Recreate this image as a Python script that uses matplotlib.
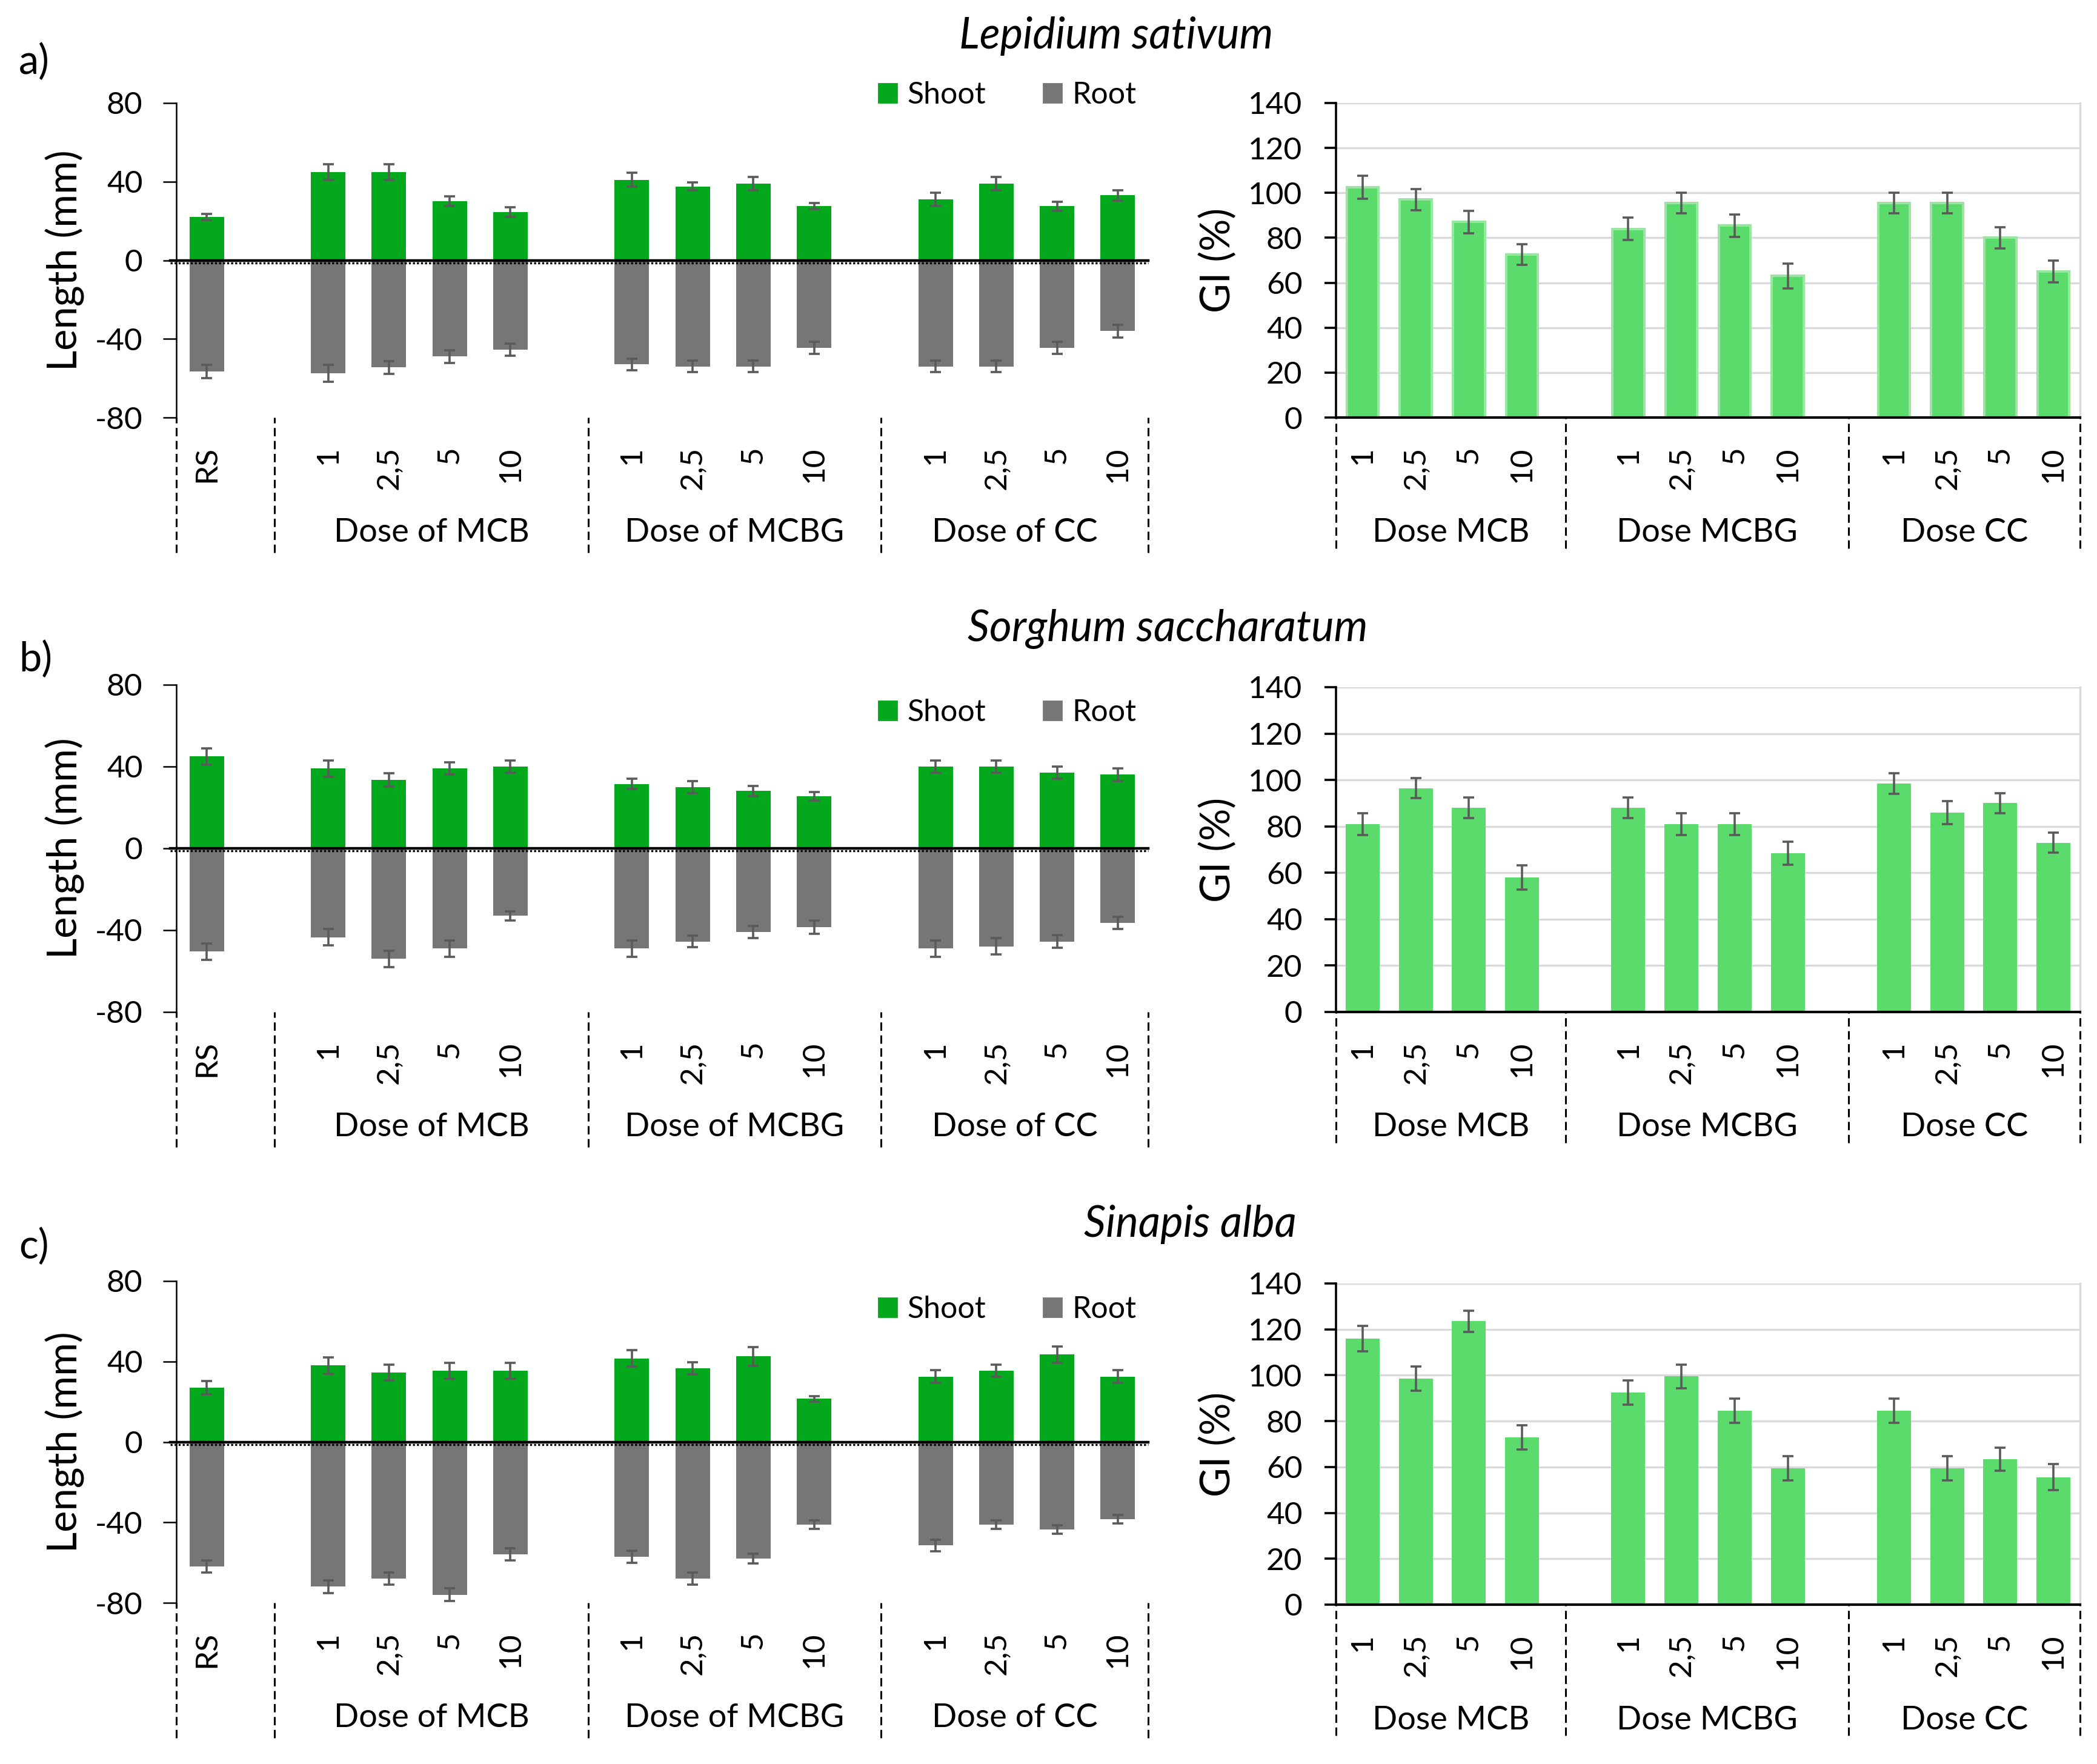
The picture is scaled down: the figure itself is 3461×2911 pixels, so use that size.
import matplotlib
matplotlib.use('Agg')
import matplotlib.pyplot as plt
from matplotlib.patches import Patch
from matplotlib.transforms import blended_transform_factory, offset_copy

plt.rcParams['font.family'] = ['Lato', 'DejaVu Sans']
plt.rcParams['axes.unicode_minus'] = False

# ---- data ----
doses = ['1', '2,5', '5', '10']
length_groups = ['Dose of MCB', 'Dose of MCBG', 'Dose of CC']
gi_groups = ['Dose MCB', 'Dose MCBG', 'Dose CC']
species = ['Lepidium sativum', 'Sorghum saccharatum', 'Sinapis alba']
panel_tags = ['a)', 'b)', 'c)']

# lengths (mm): RS, MCB 1/2,5/5/10, MCBG 1/2,5/5/10, CC 1/2,5/5/10
shoot_a = [22, 45, 45, 30, 24.5, 41, 37.5, 39, 27.5, 31, 39, 27.5, 33]
shoot_a_err = [1.5, 4, 4, 2.5, 2.5, 3.5, 2, 3.5, 1.5, 3.3, 3.5, 2.3, 2.5]
root_a = [-56.5, -57.5, -54.5, -49, -45.5, -53, -54, -54, -44.5, -54, -54, -44.5, -36]
root_a_err = [3.4, 4.2, 3.2, 3.2, 3.2, 3, 3, 3, 3, 3, 3, 3, 3.2]

shoot_b = [45, 39, 33.5, 39, 40, 31.5, 30, 28, 25.5, 40, 40, 37, 36]
shoot_b_err = [4, 4, 3.2, 3, 3, 2.6, 3, 2.4, 2.2, 3, 3, 3, 3]
root_b = [-50.5, -43.5, -54, -49, -33, -49, -45.5, -41, -38.5, -49, -48, -45.5, -36.5]
root_b_err = [4, 4, 4, 4, 2.2, 4, 2.9, 3, 3.2, 4, 4, 3, 3]

shoot_c = [27, 38, 34.5, 35.5, 35.5, 41.5, 36.5, 42.5, 21.5, 32.5, 35.5, 43.5, 32.5]
shoot_c_err = [3.2, 4, 3.9, 3.9, 3.9, 4.1, 3, 4.8, 1.4, 3.2, 3, 4.1, 3.2]
root_c = [-62, -72, -68, -76, -56, -57, -68, -58, -41, -51.5, -41, -43.5, -38.5]
root_c_err = [3, 3.2, 3, 3.2, 3, 3, 3, 2.5, 2.1, 2.9, 2.1, 2.1, 2.1]

# germination index (%): MCB 1/2,5/5/10, MCBG ..., CC ...
gi_a = [102.5, 97, 87, 72.5, 84, 95.5, 85.5, 63, 95.5, 95.5, 80, 65]
gi_a_err = [5, 4.8, 5, 4.6, 5, 4.6, 5, 5.6, 4.6, 4.6, 4.7, 4.8]
gi_b = [81, 96.5, 88, 58, 88, 81, 81, 68.5, 98.5, 86, 90, 73]
gi_b_err = [4.7, 4.3, 4.5, 5.2, 4.5, 4.7, 4.7, 5, 4.5, 5, 4.3, 4.4]
gi_c = [116, 98.5, 123.5, 73, 92.5, 99.5, 84.5, 59.5, 84.5, 59.5, 63.5, 55.5]
gi_c_err = [5.6, 5.3, 4.5, 5.3, 5.2, 5.2, 5.2, 5.3, 5.3, 5.3, 5, 5.7]

SHOOT = '#03a81c'
ROOT = '#767676'
GI = '#5cdb6d'
GI_EDGE = '#9be5a3'
ERR = '#5a5a5a'

W, H = 3461, 2911
DPI = 200
fig = plt.figure(figsize=(W / DPI, H / DPI), dpi=DPI)


def rect(x0, x1, y0, y1):
    return [x0 / W, 1 - y1 / H, (x1 - x0) / W, (y1 - y0) / H]


left_x = [0] + [2 + 5 * g + i for g in range(3) for i in range(4)]
left_labels = ['RS'] + doses * 3
right_x = [5 * g + i for g in range(3) for i in range(4)]
left_seps = [-0.5, 1.12, 6.28, 11.1, 15.5]
right_seps = [-0.5, 3.82, 9.14, 13.5]

ekw = dict(ecolor=ERR, elinewidth=1.3, capsize=3.4, capthick=1.3, zorder=3)


def bottom_decor(ax, seps, groups, depth_px, axh_px):
    trans = blended_transform_factory(ax.transData, ax.transAxes)
    ax.vlines(seps, -depth_px / axh_px, 0, transform=trans, colors='black',
              linestyles=(0, (4.5, 2.5)), lw=1.1, clip_on=False)
    tlab = offset_copy(trans, fig=fig, y=-190, units='dots')
    for k, g in enumerate(groups):
        xm = (seps[k + 1] + seps[k + 2]) / 2 if len(seps) == 5 else (seps[k] + seps[k + 1]) / 2
        ax.text(xm, 0, g, transform=tlab, ha='center', va='center', fontsize=19.5)


def draw_length(row, shoot, shoot_err, root, root_err):
    y0, y1 = left_rows[row]
    ax = fig.add_axes(rect(291, 1895, y0, y1))
    ax.bar(left_x, shoot, width=0.57, color=SHOOT, yerr=shoot_err, error_kw=ekw, zorder=2)
    ax.bar(left_x, root, width=0.57, color=ROOT, yerr=root_err, error_kw=ekw, zorder=2)
    ax.set_xlim(-0.5, 15.5)
    ax.set_ylim(-80, 80)
    ax.set_yticks([-80, -40, 0, 40, 80])
    for s in ['top', 'right', 'bottom']:
        ax.spines[s].set_visible(False)
    ax.spines['left'].set_linewidth(0.9)
    ax.tick_params(axis='y', length=8, width=0.9, pad=12, labelsize=18.5)
    ax.set_xticks(left_x)
    ax.set_xticklabels(left_labels, rotation=90)
    ax.tick_params(axis='x', length=0, pad=17, labelsize=18.5)
    yt = ax.get_yaxis_transform()
    ax.plot([-0.006, 1], [0, 0], transform=yt, color='black', lw=1.6, zorder=4, clip_on=False)
    ax.plot([-0.006, 1], [0, 0], transform=offset_copy(yt, fig=fig, y=-4, units='dots'),
            color='black', ls=(0, (1, 1)), lw=1.2, zorder=4, clip_on=False)
    bottom_decor(ax, left_seps, length_groups, 223, y1 - y0)
    fig.text(107 / W, 1 - (y0 + y1) / 2 / H, 'Length (mm)', rotation=90,
             ha='center', va='center', fontsize=24)
    return ax


def draw_gi(row, gi, gi_err):
    y0, y1 = right_rows[row]
    ax = fig.add_axes(rect(2205, 3433, y0, y1))
    if row == 0:
        ax.bar(right_x, gi, width=0.6, color=GI, edgecolor=GI_EDGE, linewidth=1.45,
               yerr=gi_err, error_kw=ekw, zorder=2)
    else:
        ax.bar(right_x, gi, width=0.64, color=GI, yerr=gi_err, error_kw=ekw, zorder=2)
    ax.set_xlim(-0.5, 13.5)
    ax.set_ylim(0, 140)
    ax.set_yticks(range(0, 141, 20))
    ax.yaxis.grid(True, color='#d9d9d9', lw=1.2)
    ax.set_axisbelow(True)
    ax.spines['top'].set_visible(False)
    ax.spines['right'].set_color('#d9d9d9')
    ax.spines['right'].set_linewidth(1.2)
    ax.spines['left'].set_linewidth(1.3)
    ax.spines['bottom'].set_linewidth(1.5)
    ax.spines['bottom'].set_zorder(4)
    ax.tick_params(axis='y', length=7, width=1.3, pad=13, labelsize=18.5)
    ax.set_xticks(right_x)
    ax.set_xticklabels(doses * 3, rotation=90)
    ax.tick_params(axis='x', length=0, pad=17, labelsize=18.5)
    bottom_decor(ax, right_seps, gi_groups, 216, y1 - y0)
    fig.text(2011 / W, 1 - (y0 + y1) / 2 / H, 'GI (%)', rotation=90,
             ha='center', va='center', fontsize=24)
    return ax


left_rows = [(170, 689), (1130, 1670), (2114, 2645)]
right_rows = [(170, 689), (1134, 1670), (2118, 2648)]

draw_length(0, shoot_a, shoot_a_err, root_a, root_a_err)
draw_length(1, shoot_b, shoot_b_err, root_b, root_b_err)
draw_length(2, shoot_c, shoot_c_err, root_c, root_c_err)
draw_gi(0, gi_a, gi_a_err)
draw_gi(1, gi_b, gi_b_err)
draw_gi(2, gi_c, gi_c_err)

# titles, panel tags, legends
title_pos = [(1842, 80), (1927, 1058), (1964, 2041)]
tag_y = [122, 1108, 2077]
legend_y = [157, 1176, 2161]
handles = [Patch(color=SHOOT, label='Shoot'), Patch(color=ROOT, label='Root')]
for k in range(3):
    tx, ty = title_pos[k]
    fig.text(tx / W, 1 - ty / H, species[k], style='italic', ha='center',
             va='baseline', fontsize=25.5)
    fig.text(31 / W, 1 - tag_y[k] / H, panel_tags[k], ha='left', va='baseline', fontsize=24)
    fig.legend(handles=handles, loc='center', bbox_to_anchor=(1663 / W, 1 - legend_y[k] / H),
               ncol=2, frameon=False, fontsize=18, handlelength=0.6, handleheight=0.6,
               handletextpad=0.35, columnspacing=1.9)

fig.savefig('out.png', dpi=DPI)
